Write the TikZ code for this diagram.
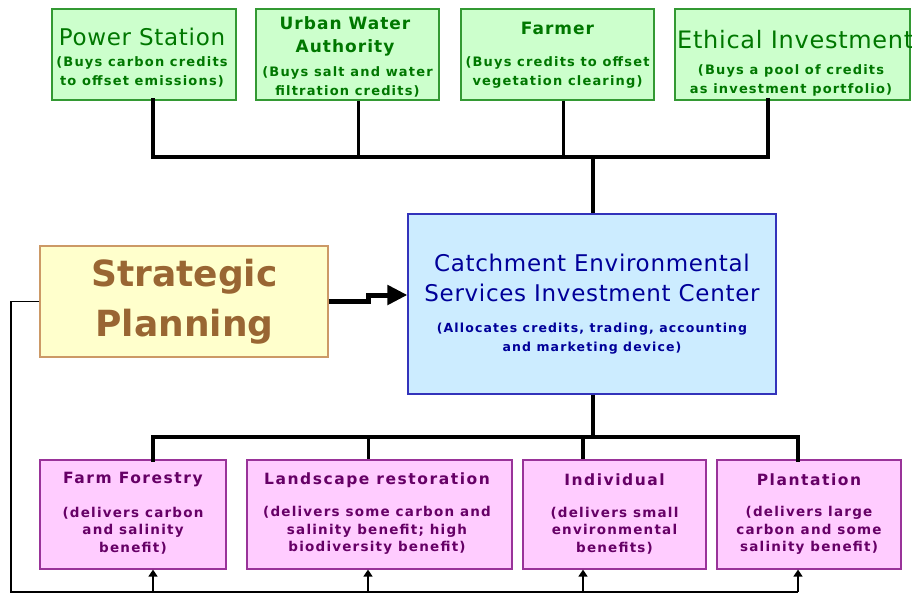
\documentclass[tikz,border=0pt]{standalone}
\usepackage{fontspec}
\setmainfont{DejaVu Sans}
\usetikzlibrary{arrows.meta,calc}
\definecolor{gfill}{HTML}{CCFFCC}
\definecolor{gline}{HTML}{339933}
\definecolor{gtext}{HTML}{007700}
\definecolor{bfill}{HTML}{CCECFF}
\definecolor{bline}{HTML}{3333BB}
\definecolor{btext}{HTML}{000099}
\definecolor{yfill}{HTML}{FFFFCC}
\definecolor{yline}{HTML}{CC9966}
\definecolor{ytext}{HTML}{996633}
\definecolor{pfill}{HTML}{FFCCFF}
\definecolor{pline}{HTML}{993399}
\definecolor{ptext}{HTML}{660066}
\newcommand{\spaced}[1]{\addfontfeature{LetterSpace=#1}}
\tikzset{
  box/.style={draw, line width=1.2pt, inner sep=0pt, rectangle},
  buyer/.style={box, fill=gfill, draw=gline, minimum height=91pt},
  provider/.style={box, fill=pfill, draw=pline, minimum height=109pt},
  txt/.style={inner sep=0pt, align=center},
  gtitle/.style={txt, text=gtext, font=\fontsize{23}{25}\selectfont\spaced{3}},
  gtitleb/.style={txt, text=gtext, font=\fontsize{17}{23}\selectfont\bfseries\spaced{6}},
  gsub/.style={txt, text=gtext, font=\fontsize{13}{19}\selectfont\bfseries\spaced{9}},
  ptitle/.style={txt, text=ptext, font=\fontsize{15.5}{17}\selectfont\bfseries\spaced{10}},
  psub/.style={txt, text=ptext, font=\fontsize{13.5}{17.5}\selectfont\bfseries\spaced{9}},
  bus/.style={line width=4.8pt},
  thinbus/.style={line width=3pt},
  feed/.style={line width=1.6pt},
  uparrow/.style={feed, -{Triangle[length=7pt,width=9pt]}},
}
\begin{document}
\begin{tikzpicture}[x=1pt,y=-1pt]
\useasboundingbox (0,0) rectangle (912,594);

% buyers of credits
\node[buyer, minimum width=184pt] (ps)  at (144,54.5) {};
\node[buyer, minimum width=183pt] (uwa) at (347.5,54.5) {};
\node[buyer, minimum width=193pt] (frm) at (557.5,54.5) {};
\node[buyer, minimum width=235pt] (eth) at (792.5,54.5) {};

\node[gtitle]  (psT)  at (142,37) {Power Station};
\node[gsub]    (psS)  at (142,71.5) {(Buys carbon credits\\to offset emissions)};
\node[gtitleb] (uwaT) at (345,36.5) {Urban Water\\Authority};
\node[gsub]    (uwaS) at (347.5,81.5) {(Buys salt and water\\filtration credits)};
\node[gtitleb] (frmT) at (557.5,28) {Farmer};
\node[gsub]    (frmS) at (557.5,72) {(Buys credits to offset\\vegetation clearing)};
\node[gtitle, font=\fontsize{24}{25}\selectfont\spaced{3}, anchor=west] (ethT) at (677,40) {Ethical Investment};
\node[gsub]    (ethS) at (791,80.5) {(Buys a pool of credits\\as investment portfolio)};

% investment center
\node[box, fill=bfill, draw=bline, minimum width=368pt, minimum height=180pt] (cc) at (592,304) {};
\node[txt, text=btext, font=\fontsize{23}{30}\selectfont\spaced{3}] (ccT) at (592,278)
  {Catchment Environmental\\Services Investment Center};
\node[txt, text=btext, font=\fontsize{12.5}{19}\selectfont\bfseries\spaced{9}] (ccS) at (592,338.5)
  {(Allocates credits, trading, accounting\\and marketing device)};

% strategic planning
\node[box, fill=yfill, draw=yline, minimum width=288pt, minimum height=111pt] (sp) at (184,301.5) {};
\node[txt, text=ytext, font=\fontsize{36}{50}\selectfont\bfseries] (spT) at (184.5,302)
  {Strategic\\Planning};

% providers of credits
\node[provider, minimum width=186pt] (ff)  at (133,514.5) {};
\node[provider, minimum width=265pt] (ls)  at (379.5,514.5) {};
\node[provider, minimum width=183pt] (ind) at (614.5,514.5) {};
\node[provider, minimum width=184pt] (pl)  at (809,514.5) {};

\node[ptitle] (ffT)  at (133,480) {Farm Forestry};
\node[psub]   (ffS)  at (133,530.5) {(delivers carbon\\and salinity\\benefit)};
\node[ptitle] (lsT)  at (377,480) {Landscape restoration};
\node[psub]   (lsS)  at (377,530.5) {(delivers some carbon and\\salinity benefit; high\\biodiversity benefit)};
\node[ptitle] (indT) at (614.5,480) {Individual};
\node[psub]   (indS) at (614.5,530.5) {(delivers small\\environmental\\benefits)};
\node[ptitle] (plT)  at (809,480) {Plantation};
\node[psub]   (plS)  at (809,530.5) {(delivers large\\carbon and some\\salinity benefit)};

% junction points of the buses
\coordinate (t1) at (153,157);
\coordinate (t2) at (358,157);
\coordinate (t3) at (563,157);
\coordinate (t4) at (768,157);
\coordinate (tc) at (593,157);
\coordinate (b1) at (153,437);
\coordinate (b2) at (368,437);
\coordinate (b3) at (583,437);
\coordinate (b4) at (798,437);
\coordinate (bc) at (593,437);
\coordinate (f0) at (11,592);
\coordinate (f1) at (153,592);
\coordinate (f2) at (368,592);
\coordinate (f3) at (583,592);
\coordinate (f4) at (798,592);
\coordinate (jog) at (368,295);

% upper bus: buyers to the center
\draw[bus, line cap=rect] (t1 |- ps.south) -- (t1) -- (t4) -- (t4 |- eth.south);
\draw[thinbus] (t2 |- uwa.south) -- (t2);
\draw[thinbus] (t3 |- frm.south) -- (t3);
\draw[bus] (tc) -- (tc |- cc.north);

% lower bus: center to providers
\draw[bus] (bc |- cc.south) -- (bc);
\draw[bus, line cap=rect] (b1 |- ff.north) -- (b1) -- (b4) -- (b4 |- pl.north);
\draw[thinbus] (b2) -- (b2 |- ls.north);
\draw[bus] (b3) -- (b3 |- ind.north);

% planning drives the center
\draw[line width=5pt, -{Triangle[length=20pt,width=19pt]}]
  (sp.east) -| (jog) -- (jog -| cc.west);

% feedback loop from planning to the providers
\draw[feed] (sp.west) -| (f0) -- (f4);
\draw[uparrow] (f1) -- (f1 |- ff.south);
\draw[uparrow] (f2) -- (f2 |- ls.south);
\draw[uparrow] (f3) -- (f3 |- ind.south);
\draw[uparrow] (f4) -- (f4 |- pl.south);
\end{tikzpicture}
\end{document}
